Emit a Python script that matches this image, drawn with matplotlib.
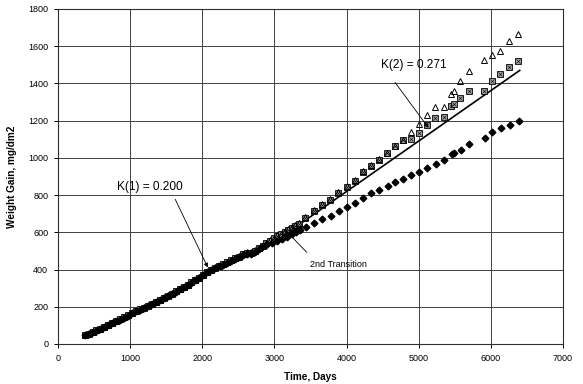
import matplotlib
matplotlib.use("Agg")
import matplotlib.pyplot as plt

plt.rcParams['font.family'] = ['Liberation Sans', 'DejaVu Sans']

# early part: all three specimens lie on top of each other
early_days = [380, 430, 480, 530, 585, 640, 695, 750, 805, 860, 915, 970, 1025, 1080, 1135,
              1190, 1245, 1300, 1355, 1410, 1465, 1520, 1575, 1630, 1685, 1740, 1795, 1850,
              1905, 1960, 2015, 2070, 2125, 2180, 2235, 2290, 2345, 2400, 2455, 2510, 2565,
              2620, 2675, 2730, 2785]
early_tri = [49, 57, 65, 74, 83, 93, 103, 113, 123, 133, 144, 155, 166, 177, 187, 197, 207,
             217, 228, 239, 250, 261, 272, 284, 295, 307, 319, 332, 345, 358, 372, 387, 399,
             411, 421, 431, 441, 452, 462, 472, 484, 492, 494, 505, 518]
early_sq = [48, 56, 64, 73, 82, 92, 102, 112, 122, 132, 143, 154, 165, 176, 186, 196, 206,
            216, 227, 238, 249, 260, 271, 283, 294, 306, 318, 331, 344, 357, 371, 386, 398,
            409, 419, 429, 439, 450, 460, 470, 481, 489, 491, 502, 515]
early_dia = [47, 55, 63, 72, 81, 91, 101, 111, 121, 131, 142, 153, 164, 175, 185, 195, 205,
             215, 226, 237, 248, 259, 270, 282, 293, 305, 317, 330, 343, 356, 370, 385, 397,
             407, 417, 427, 437, 447, 457, 466, 476, 483, 485, 496, 509]

# later part: the specimens separate
tri_days = [2840, 2890, 2940, 2990, 3040, 3090, 3140, 3190, 3240, 3290, 3340, 3430, 3545,
            3660, 3775, 3886, 4002, 4117, 4230, 4339, 4450, 4565, 4676, 4787, 4893, 5006,
            5115, 5230, 5344, 5450, 5490, 5575, 5692, 5902, 6016, 6131, 6256, 6381]
tri_gain = [532, 545, 560, 572, 583, 593, 605, 616, 626, 638, 650, 680, 718, 750, 777, 815,
            850, 881, 928, 960, 993, 1027, 1062, 1096, 1141, 1181, 1228, 1272, 1272, 1343,
            1360, 1411, 1469, 1525, 1552, 1572, 1626, 1664]

sq_days = [2840, 2890, 2940, 2990, 3040, 3090, 3140, 3190, 3240, 3290, 3340, 3430, 3545,
           3660, 3775, 3886, 4002, 4117, 4230, 4339, 4450, 4565, 4676, 4787, 4893, 5006,
           5115, 5230, 5344, 5450, 5490, 5575, 5692, 5902, 6016, 6131, 6256, 6381]
sq_gain = [529, 542, 556, 568, 580, 590, 601, 612, 622, 634, 646, 676, 714, 746, 773, 811,
           845, 878, 925, 957, 989, 1024, 1062, 1098, 1103, 1136, 1179, 1212, 1217, 1278,
           1290, 1322, 1358, 1362, 1413, 1451, 1490, 1521]

dia_days = [2830, 2890, 2960, 3030, 3100, 3170, 3240, 3300, 3360, 3440, 3550, 3662, 3778,
            3890, 4004, 4115, 4226, 4339, 4452, 4568, 4676, 4789, 4898, 5008, 5121, 5235,
            5348, 5462, 5492, 5582, 5697, 5916, 6020, 6145, 6266, 6390]
dia_gain = [520, 531, 541, 551, 563, 577, 590, 602, 613, 630, 650, 671, 690, 715, 734, 759,
            785, 810, 829, 847, 869, 889, 906, 926, 947, 968, 990, 1019, 1024, 1040, 1073,
            1108, 1138, 1159, 1175, 1200]

# post-transition fit line, K(2) = 0.271
fit_days = [2950, 6400]
fit_gain = [535, 1470]

fig = plt.figure(figsize=(5.83, 3.84), dpi=100)
ax = fig.add_axes([0.0995, 0.1042, 0.8662, 0.8724])

ax.plot(early_days + sq_days, early_sq + sq_gain, ls='none', marker='s', ms=3.9,
        mfc='#a0a0a0', mec='black', mew=0.6, zorder=3)
ax.plot(early_days + sq_days, early_sq + sq_gain, ls='none', marker='x', ms=2.7,
        mec='black', mew=0.4, zorder=4)
ax.plot(early_days + dia_days, early_dia + dia_gain, ls='none', marker='D', ms=3.4,
        mfc='black', mec='black', zorder=3)
# open triangles drawn last so they stay visible on top of the boxes
ax.plot(early_days + tri_days, early_tri + tri_gain, ls='none', marker='^', ms=4.2,
        mfc='none', mec='black', mew=0.7, zorder=5)
ax.plot(fit_days, fit_gain, color='black', lw=1.2, zorder=2)

# annotations
ax.text(1271, 845, 'K(1) = 0.200', fontsize=8.6, ha='center', va='center')
ax.annotate('', xy=(2093, 398), xytext=(1608, 791),
            arrowprops=dict(arrowstyle='-|>', color='black', lw=0.6, mutation_scale=6))
ax.text(4926, 1499, 'K(2) = 0.271', fontsize=8.6, ha='center', va='center')
ax.annotate('', xy=(5157, 1150), xytext=(4648, 1418),
            arrowprops=dict(arrowstyle='-|>', color='black', lw=0.6, mutation_scale=6))
ax.text(3892, 429, '2nd Transition', fontsize=6.5, ha='center', va='center')
ax.plot([3447, 3230], [493, 580], color='black', lw=0.6)

ax.set_xlim(0, 7000)
ax.set_ylim(0, 1800)
ax.set_xticks(range(0, 7001, 1000))
ax.set_yticks(range(0, 1801, 200))
ax.grid(True, color='#404040', lw=0.7)
ax.set_axisbelow(True)
for s in ax.spines.values():
    s.set_color('#303030')
    s.set_linewidth(0.8)
ax.tick_params(labelsize=6.5, length=3, width=0.7, pad=4)

ax.set_xlabel('Time, Days', fontsize=7.2, fontweight='bold', labelpad=7)
ax.set_ylabel('Weight Gain, mg/dm2', fontsize=7.2, fontweight='bold', labelpad=8)

fig.savefig('out.png', dpi=100)
